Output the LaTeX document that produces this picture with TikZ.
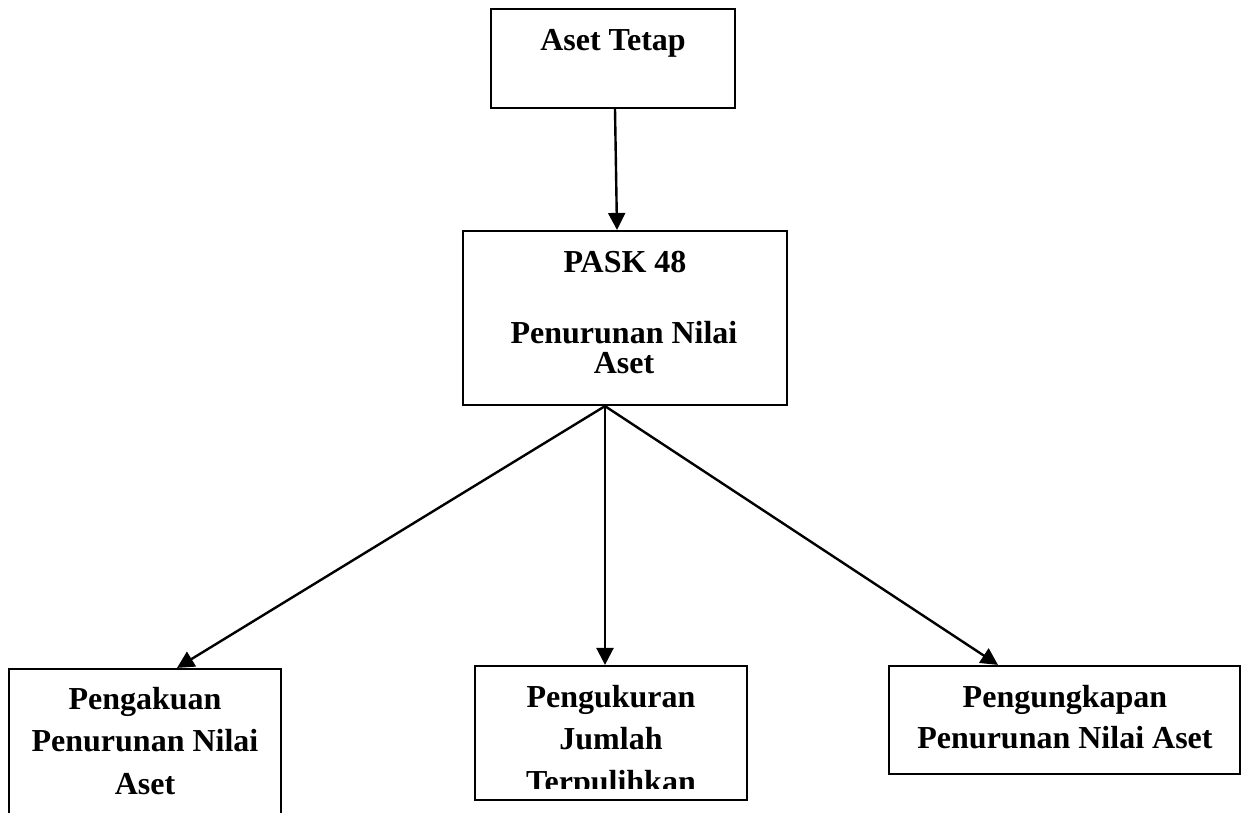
\documentclass[tikz,border=0pt]{standalone}
\usepackage{fontspec}
\setmainfont{Liberation Serif}
\usetikzlibrary{arrows.meta}
\begin{document}
\begin{tikzpicture}[x=1pt,y=-1pt,
  box/.style={draw,line width=2.2pt,inner sep=0pt},
  lbl/.style={font=\fontsize{32}{30}\selectfont\bfseries,inner sep=0pt,anchor=base},
  conn/.style={line width=2.4pt,-{Triangle[length=17pt,width=17pt]}}]
\useasboundingbox (0,0) rectangle (1241,812);
\clip (0,0) rectangle (1241,812);
% boxes
\node[box,minimum width=244pt,minimum height=99pt] (top) at (613,58.5) {};
\node[box,minimum width=324pt,minimum height=174pt] (pask) at (625,318) {};
\node[box,minimum width=272pt,minimum height=181pt] (left) at (145,759.5) {};
\node[box,minimum width=272pt,minimum height=134pt] (mid) at (611,733) {};
\node[box,minimum width=351pt,minimum height=108pt] (right) at (1064.5,720) {};
% labels
\node[lbl] (t1) at (613,50) {Aset Tetap};
\node[lbl] (p1) at (625,272) {PASK 48};
\node[lbl] (p2) at (624,343) {Penurunan Nilai};
\node[lbl] (p3) at (624,373) {Aset};
\node[lbl] (l1) at (145,709) {Pengakuan};
\node[lbl] (l2) at (145,751) {Penurunan Nilai};
\node[lbl] (l3) at (145,794) {Aset};
\node[lbl] (m1) at (611,707) {Pengukuran};
\node[lbl] (m2) at (611,749) {Jumlah};
\begin{scope}
\clip (475,666) rectangle (747,788);
\node[lbl] (m3) at (611,792) {Terpulihkan};
\end{scope}
\node[lbl] (r1) at (1065,707) {Pengungkapan};
\node[lbl] (r2) at (1065,748) {Penurunan Nilai Aset};
% connectors
\draw[conn] ([xshift=2pt]top.south) -- ([xshift=-8pt]pask.north);
\coordinate (apex) at ([xshift=-20pt]pask.south);
\draw[conn] (apex) -- ([xshift=32pt]left.north);
\draw[conn] (apex) -- ([xshift=-6pt]mid.north);
\draw[conn] (apex) -- ([xshift=-66.5pt]right.north);
\end{tikzpicture}
\end{document}
